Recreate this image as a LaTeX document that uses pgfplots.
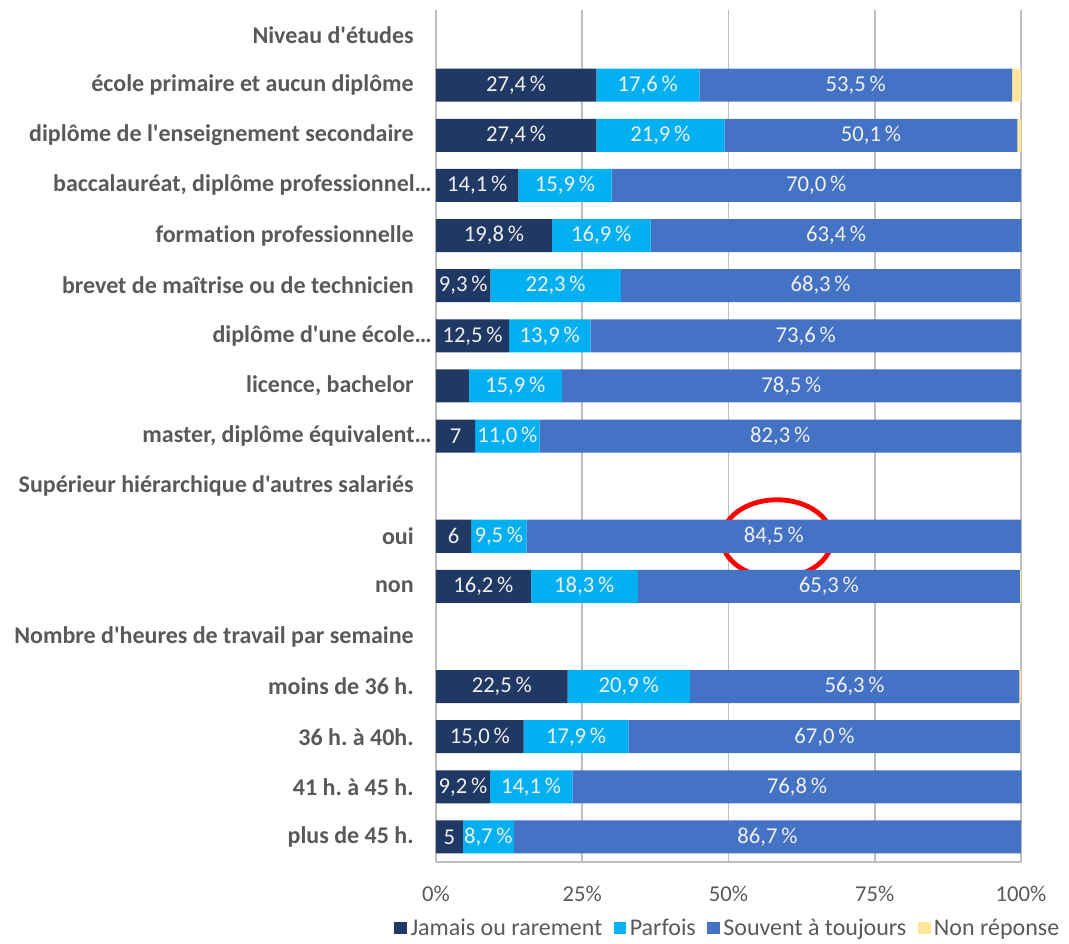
\documentclass[border=0pt]{standalone}
\usepackage{fontspec}
\setmainfont{Carlito}[Ligatures={TeX,NoCommon}]
\newfontfamily\plainfont{Carlito}[Ligatures=NoCommon]
\usepackage{pgfplots}
\usepackage{pgfplotstable}
\pgfplotsset{compat=1.18}
\frenchspacing

\definecolor{jamais}{HTML}{203864}
\definecolor{parfois}{HTML}{00B0F0}
\definecolor{souvent}{HTML}{4472C4}
\definecolor{nonrep}{HTML}{FFE699}
\definecolor{txtgray}{HTML}{595959}
\definecolor{gridgray}{HTML}{BFBFBF}
\newcommand\nolab{}
\newcommand\cut[1]{#1\kern-13.5pt}

% r = row (1..17 top to bottom), v = percent, lab = label shown in the bar
\pgfplotstableread{
r v lab
2 27.4 27,4\,\%
3 27.4 27,4\,\%
4 14.1 14,1\,\%
5 19.8 19,8\,\%
6 9.3 9,3\,\%
7 12.5 12,5\,\%
8 5.6 \nolab
9 6.7 7
11 6.0 6
12 16.2 16,2\,\%
14 22.5 22,5\,\%
15 15.0 15,0\,\%
16 9.2 9,2\,\%
17 4.6 5
}\jamais
\pgfplotstableread{
r v lab
2 17.6 17,6\,\%
3 21.9 21,9\,\%
4 15.9 15,9\,\%
5 16.9 16,9\,\%
6 22.3 22,3\,\%
7 13.9 13,9\,\%
8 15.9 15,9\,\%
9 11.0 11,0\,\%
11 9.5 9,5\,\%
12 18.3 18,3\,\%
14 20.9 20,9\,\%
15 17.9 17,9\,\%
16 14.1 14,1\,\%
17 8.7 8,7\,\%
}\parfois
\pgfplotstableread{
r v lab
2 53.5 53,5\,\%
3 50.1 50,1\,\%
4 70.0 70,0\,\%
5 63.4 63,4\,\%
6 68.3 68,3\,\%
7 73.6 73,6\,\%
8 78.5 78,5\,\%
9 82.3 82,3\,\%
11 84.5 84,5\,\%
12 65.3 65,3\,\%
14 56.3 56,3\,\%
15 67.0 67,0\,\%
16 76.8 76,8\,\%
17 86.7 86,7\,\%
}\souvent
\pgfplotstableread{
r v lab
2 1.5 \nolab
3 0.6 \nolab
4 0 \nolab
5 0 \nolab
6 0 \nolab
7 0 \nolab
8 0 \nolab
9 0 \nolab
11 0 \nolab
12 0.2 \nolab
14 0.3 \nolab
15 0.1 \nolab
16 0 \nolab
17 0 \nolab
}\nonrep

\begin{document}
\begin{tikzpicture}
\begin{axis}[
    xbar stacked,
    scale only axis,
    width=438.75pt, height=639pt,
    xmin=0, xmax=100,
    ymin=0.5, ymax=17.5,
    y dir=reverse,
    clip=false,
    bar width=24.75pt,
    axis line style={draw=none},
    major tick length=0pt,
    xmajorgrids,
    grid style={gridgray, line width=1.3pt},
    xtick={0,25,50,75,100},
    xticklabels={0\%,25\%,50\%,75\%,100\%},
    xticklabel style={font=\fontsize{17}{20}\selectfont, text=txtgray, anchor=base, inner sep=0pt, yshift=-29.25pt},
    ytick={1,...,17},
    yticklabels={Niveau d'études, école primaire et aucun diplôme,
      diplôme de l'enseignement secondaire, {\cut{baccalauréat, diplôme professionnel…}},
      formation professionnelle, brevet de maîtrise ou de technicien,
      \cut{diplôme d'une école…}, {licence, bachelor}, {\cut{master, diplôme équivalent…}},
      Supérieur hiérarchique d'autres salariés, oui, non,
      Nombre d'heures de travail par semaine, moins de 36 h., 36 h. à 40h.,
      41 h. à 45 h., plus de 45 h.},
    yticklabel style={font=\plainfont\bfseries\fontsize{18}{20}\selectfont, text=txtgray, anchor=east, inner sep=0pt, xshift=-16.5pt},
    point meta=explicit symbolic,
    every node near coord/.append style={font=\fontsize{17}{19}\selectfont, text=white!94!black,
      anchor=center, inner sep=0pt},
    legend columns=4,
    legend image code/.code={\path[#1] (0pt,-4.8pt) rectangle (9.6pt,4.8pt);},
    legend style={at={(0.5,-0.0775)}, anchor=center, draw=none, fill=none,
      font=\fontsize{18}{20}\selectfont, text=txtgray,
      /tikz/every even column/.append style={column sep=6pt},
      nodes={inner xsep=2.5pt, inner ysep=1pt}},
    after end axis/.code={\draw[gridgray, line width=1.3pt] (rel axis cs:0,0) -- (rel axis cs:1,0);},
  ]
  \addplot[fill=jamais, draw=none, nodes near coords] table[x=v, y=r, meta=lab] {\jamais};
  \addlegendentry{Jamais ou rarement}
  \addplot[fill=parfois, draw=none, nodes near coords] table[x=v, y=r, meta=lab] {\parfois};
  \addlegendentry{Parfois}
  \addplot[fill=souvent, draw=none, nodes near coords] table[x=v, y=r, meta=lab] {\souvent};
  \addlegendentry{Souvent à toujours}
  \addplot[fill=nonrep, draw=none] table[x=v, y=r, meta=lab] {\nonrep};
  \addlegendentry{Non réponse}
  \draw[red, line width=3.6pt] (axis cs:58.3,11.05) ellipse [x radius=41.25pt, y radius=29.25pt];
\end{axis}
\pgfresetboundingbox
\path (-327pt,-60.75pt) rectangle (474.75pt,646.5pt);
\end{tikzpicture}
\end{document}
